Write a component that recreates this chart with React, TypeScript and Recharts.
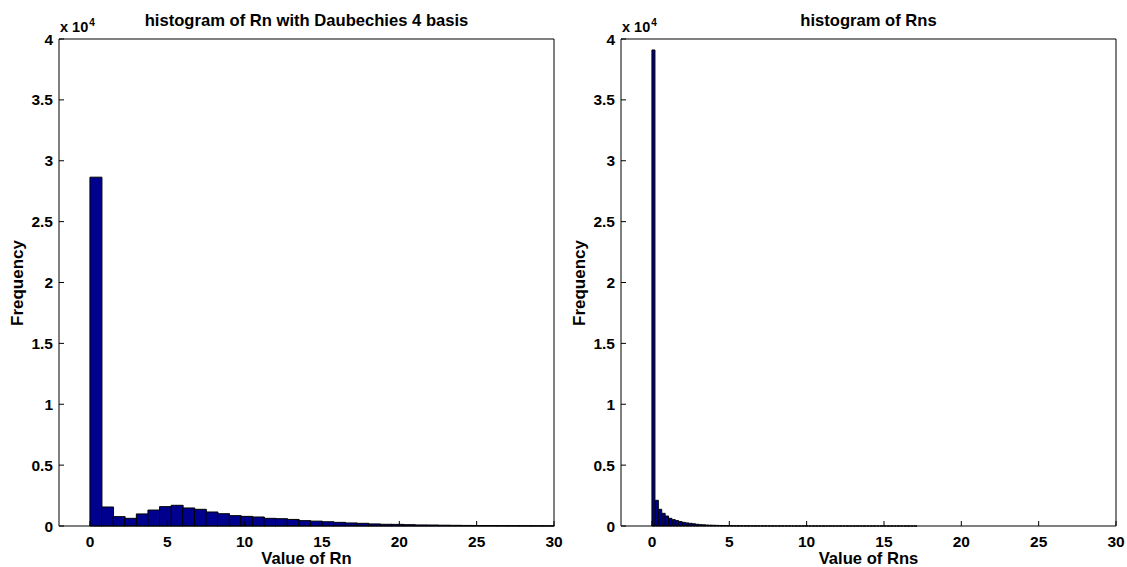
import React from 'react'
import { BarChart, Bar, XAxis, YAxis } from 'recharts'

// histogram counts
const RN_BIN_WIDTH = 0.75
const RN_COUNTS = [
  28650, 1560, 770, 630, 990, 1310, 1590, 1700, 1480, 1370,
  1150, 1010, 850, 790, 740, 630, 600, 540, 440, 400,
  350, 300, 250, 220, 170, 140, 135, 110, 85, 80,
  65, 55, 45, 40, 35, 30, 25, 20, 15, 12,
]

const RNS_BIN_WIDTH = 0.22
const RNS_COUNTS = [
  39100, 2110, 1370, 1040, 820, 630, 520, 440, 360, 300,
  250, 220, 180, 140, 110, 95, 80, 70, 60, 50,
  42, 36, 30, 26, 22, 19, 16, 14, 12, 11,
  10, 9, 8, 7, 6, 6, 5, 5, 4, 4,
  4, 3, 3, 3, 3, 3, 2, 2, 2, 2,
  2, 2, 2, 2, 2, 1, 1, 1, 1, 1,
  1, 1, 1, 1, 1, 1, 1, 1, 1, 1,
  1, 1, 1, 1, 1, 1, 1, 1,
]

const X_TICKS = [0, 5, 10, 15, 20, 25, 30]
const X_DOMAIN = [-2, 30]
const Y_TICKS = [0, 5000, 10000, 15000, 20000, 25000, 30000, 35000, 40000]
const Y_DOMAIN = [0, 40000]

const FONT = '"Liberation Sans", Arial, Helvetica, sans-serif'
const BAR_FILL = '#00008F'

const toBins = (counts: number[], width: number) =>
  counts.map((count, i) => ({ x: width * (i + 0.5), count }))

type PanelProps = {
  left: number
  width: number
  plotLeft: number
  plotRight: number
  title: string
  xLabel: string
  data: { x: number; count: number }[]
}

const PLOT_TOP = 39
const PLOT_BOTTOM = 526
const H = 567

function Panel({ left, width, plotLeft, plotRight, title, xLabel, data }: PanelProps) {
  const cx = (plotLeft + plotRight) / 2
  const textBase: React.CSSProperties = { position: 'absolute', fontFamily: FONT, fontWeight: 'bold', color: '#000', whiteSpace: 'nowrap' }
  const tickFont = { fill: '#000', fontSize: 15.5, fontWeight: 'bold', fontFamily: FONT }
  return (
    <div style={{ position: 'absolute', left, top: 0, width, height: H }}>
      <BarChart
        width={width}
        height={H}
        data={data}
        barCategoryGap={0}
        margin={{ top: PLOT_TOP - 1, left: plotLeft - 50, right: width - plotRight - 1, bottom: H - PLOT_BOTTOM - 30 }}
      >
        <XAxis xAxisId="bottom" dataKey="x" type="number" domain={X_DOMAIN} ticks={X_TICKS} interval={0}
          height={30} tickSize={-5} tickMargin={15} stroke="#000" tick={tickFont} />
        <XAxis xAxisId="top" orientation="top" dataKey="x" type="number" domain={X_DOMAIN} ticks={X_TICKS} interval={0}
          height={1} tickSize={-5} tick={false} stroke="#000" />
        <YAxis yAxisId="left" type="number" domain={Y_DOMAIN} ticks={Y_TICKS} interval={0}
          width={50} tickSize={-5} tickMargin={11} stroke="#000"
          tickFormatter={(v: number) => String(v / 10000)} tick={tickFont} />
        <YAxis yAxisId="right" orientation="right" type="number" domain={Y_DOMAIN} ticks={Y_TICKS} interval={0}
          width={1} tickSize={-5} tick={false} stroke="#000" />
        <Bar xAxisId="bottom" yAxisId="left" dataKey="count" fill={BAR_FILL} stroke="#000" strokeWidth={1} isAnimationActive={false} />
      </BarChart>

      <div style={{ ...textBase, left: cx, top: 13, fontSize: 16.6, lineHeight: '16px', transform: 'translateX(-50%)' }}>{title}</div>
      <div style={{ ...textBase, left: plotLeft + 1, top: 19.5, fontSize: 14.5, lineHeight: '14px' }}>
        x 10<sup style={{ fontSize: 10, verticalAlign: 'top', position: 'relative', top: -4, marginLeft: 1 }}>4</sup>
      </div>
      <div style={{ ...textBase, left: plotLeft - 42, top: (PLOT_TOP + PLOT_BOTTOM) / 2, fontSize: 17, lineHeight: '17px', transform: 'translate(-50%, -50%) rotate(-90deg)' }}>Frequency</div>
      <div style={{ ...textBase, left: cx, top: 551, fontSize: 16.6, lineHeight: '16px', transform: 'translateX(-50%)' }}>{xLabel}</div>
    </div>
  )
}

export default function App() {
  return (
    <div style={{ position: 'absolute', left: 0, top: 0, width: 1127, height: H, background: '#fff', overflow: 'hidden' }}>
      <Panel left={0} width={565} plotLeft={59} plotRight={554}
        title="histogram of Rn with Daubechies 4 basis" xLabel="Value of Rn"
        data={toBins(RN_COUNTS, RN_BIN_WIDTH)} />
      <Panel left={565} width={562} plotLeft={56} plotRight={551}
        title="histogram of Rns" xLabel="Value of Rns"
        data={toBins(RNS_COUNTS, RNS_BIN_WIDTH)} />
    </div>
  )
}
